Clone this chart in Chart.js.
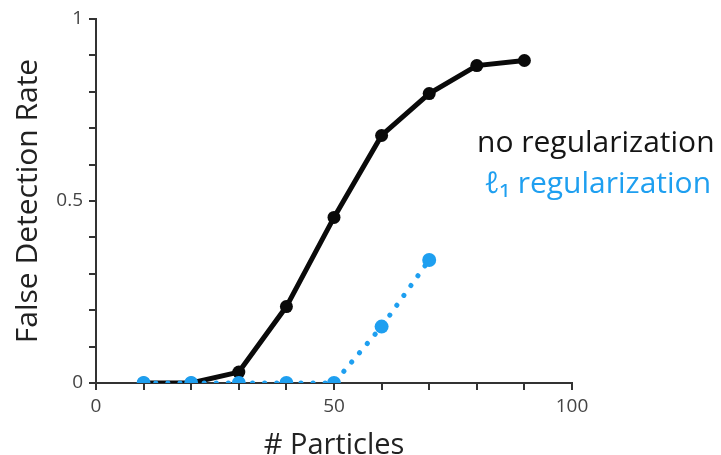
<!DOCTYPE html>
<html>
<head>
<meta charset="utf-8">
<script src="https://cdn.jsdelivr.net/npm/chart.js@4/dist/chart.umd.min.js"></script>
<style>
  html, body { margin: 0; padding: 0; background: #fff; }
  #wrap { width: 721px; height: 455px; position: relative; }
</style>
</head>
<body>
<div id="wrap"><canvas id="c" width="721" height="455"></canvas></div>
<script>
// ---- data ----
const particles = [10, 20, 30, 40, 50, 60, 70, 80, 90];
const noRegValues = [0, 0, 0.03, 0.21, 0.455, 0.68, 0.795, 0.872, 0.886];
const l1Particles = [10, 20, 30, 40, 50, 60, 70];
const l1Values = [0, 0, 0, 0, 0, 0.155, 0.338];
const xTickLabels = [0, 50, 100];
const yTickLabels = [0, 0.5, 1];
const seriesNames = ['no regularization', 'ℓ\u2081 regularization'];
const axisTitles = { x: '# Particles', y: 'False Detection Rate' };

const BLACK = '#0a0a0a';
const BLUE = '#1e9ff0';
const AXIS = '#333333';
const FONT = "'Open Sans', 'Noto Sans', sans-serif";

const legendText = {
  id: 'legendText',
  afterDraw(chart) {
    const ctx = chart.ctx;
    ctx.save();
    ctx.font = "30px " + FONT;
    ctx.textAlign = 'left';
    ctx.textBaseline = 'alphabetic';
    ctx.fillStyle = '#151515';
    ctx.fillText(seriesNames[0], 477, 152);
    ctx.fillStyle = BLUE;
    ctx.fillText(seriesNames[1], 484, 193);
    ctx.restore();
  }
};

const isIn = (arr, v) => arr.some(a => Math.abs(a - v) < 1e-9);

new Chart(document.getElementById('c'), {
  type: 'line',
  data: {
    datasets: [
      {
        label: seriesNames[1],
        data: l1Particles.map((x, i) => ({ x, y: l1Values[i] })),
        borderColor: BLUE,
        backgroundColor: BLUE,
        borderWidth: 5,
        borderDash: [0.1, 12],
        borderCapStyle: 'round',
        pointRadius: 7,
        pointBorderWidth: 0,
        pointBackgroundColor: BLUE,
        order: 0
      },
      {
        label: seriesNames[0],
        data: particles.map((x, i) => ({ x, y: noRegValues[i] })),
        borderColor: BLACK,
        backgroundColor: BLACK,
        borderWidth: 5,
        pointRadius: 6.5,
        pointBorderWidth: 0,
        pointBackgroundColor: BLACK,
        order: 1
      }
    ]
  },
  options: {
    responsive: false,
    animation: false,
    layout: { padding: { left: 0, right: 149, top: 19, bottom: 0 } },
    plugins: { legend: { display: false }, tooltip: { enabled: false } },
    scales: {
      x: {
        type: 'linear',
        min: 0, max: 100,
        afterFit(s) { s.height = 72; },
        ticks: {
          stepSize: 10,
          autoSkip: false,
          maxRotation: 0,
          padding: 5,
          color: '#444',
          font: { family: FONT, size: 19 },
          callback: v => isIn(xTickLabels, v) ? String(v) : ''
        },
        grid: { drawOnChartArea: false, drawTicks: true, tickLength: 7, color: AXIS, lineWidth: 2 },
        border: { display: true, color: AXIS, width: 2 },
        title: {
          display: true, text: axisTitles.x, color: '#222',
          font: { family: FONT, size: 29, lineHeight: 1 },
          padding: { top: 0, bottom: -5 }
        }
      },
      y: {
        min: 0, max: 1,
        afterFit(s) { s.width = 96; },
        ticks: {
          stepSize: 0.1,
          autoSkip: false,
          padding: 6,
          color: '#444',
          font: { family: FONT, size: 19 },
          callback: v => isIn(yTickLabels, v) ? String(Math.round(v * 10) / 10) : ''
        },
        grid: { drawOnChartArea: false, drawTicks: true, tickLength: 7, color: AXIS, lineWidth: 2 },
        border: { display: true, color: AXIS, width: 2 },
        title: {
          display: true, text: axisTitles.y, color: '#222',
          font: { family: FONT, size: 30, lineHeight: 1.2 },
          padding: { top: 10, bottom: 0 }
        }
      }
    }
  },
  plugins: [legendText]
});
</script>
</body>
</html>
